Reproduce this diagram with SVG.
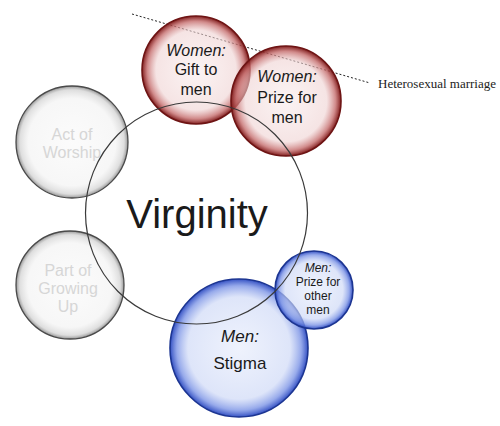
<svg xmlns="http://www.w3.org/2000/svg" width="500" height="426" viewBox="0 0 500 426">
<style>
.lbl{font-family:"Liberation Sans",Arial,sans-serif;text-anchor:middle;fill:#1a1a1a}
.it{font-style:italic}
.gray{fill:#d6d6d6}
.red{fill:url(#gRed);stroke:#6e1414;stroke-width:1.6}
.blue{fill:url(#gBlue);stroke:#1c3592;stroke-width:1.6}
.grey{fill:url(#gGrey);stroke:#4a4a4a;stroke-width:1.3}
</style>
<defs>
<radialGradient id="gRed" cx="0.5" cy="0.5" r="0.5">
<stop offset="0" stop-color="#f8eaea" stop-opacity="0.55"/>
<stop offset="0.74" stop-color="#efd2d2" stop-opacity="0.6"/>
<stop offset="0.9" stop-color="#c46a6a" stop-opacity="0.78"/>
<stop offset="1" stop-color="#7a1212" stop-opacity="0.95"/>
</radialGradient>
<radialGradient id="gBlue" cx="0.5" cy="0.5" r="0.5">
<stop offset="0" stop-color="#e4eafb" stop-opacity="0.6"/>
<stop offset="0.74" stop-color="#ccd7f6" stop-opacity="0.65"/>
<stop offset="0.9" stop-color="#7d95e6" stop-opacity="0.8"/>
<stop offset="1" stop-color="#2a48c0" stop-opacity="0.95"/>
</radialGradient>
<radialGradient id="gGrey" cx="0.5" cy="0.5" r="0.5">
<stop offset="0" stop-color="#f8f8f8" stop-opacity="0.5"/>
<stop offset="0.78" stop-color="#f0f0f0" stop-opacity="0.55"/>
<stop offset="0.93" stop-color="#d0d0d0" stop-opacity="0.7"/>
<stop offset="1" stop-color="#8a8a8a" stop-opacity="0.9"/>
</radialGradient>
</defs>
<rect width="500" height="426" fill="#ffffff"/>
<g id="connectors">
<line x1="132" y1="14" x2="370" y2="83" stroke="#222" stroke-width="1" stroke-dasharray="2,2"/>
</g>
<g id="worship">
<circle class="grey" cx="72" cy="142" r="56"/>
<text class="lbl gray" font-size="16" x="72" y="140">Act of</text>
<text class="lbl gray" font-size="16" x="72" y="158">Worship</text>
</g>
<g id="growing">
<circle class="grey" cx="70" cy="285" r="54"/>
<text class="lbl gray" font-size="16" x="68" y="276">Part of</text>
<text class="lbl gray" font-size="16" x="68" y="294">Growing</text>
<text class="lbl gray" font-size="16" x="68" y="312">Up</text>
</g>
<g id="gift">
<circle class="red" cx="196" cy="70" r="54"/>
<text class="lbl it" font-size="16" x="196" y="56">Women:</text>
<text class="lbl" font-size="16" x="196" y="75">Gift to</text>
<text class="lbl" font-size="16" x="196" y="95">men</text>
</g>
<g id="prize">
<circle class="red" cx="286" cy="101" r="55"/>
<text class="lbl it" font-size="16" x="287" y="82">Women:</text>
<text class="lbl" font-size="16" x="287" y="103">Prize for</text>
<text class="lbl" font-size="16" x="287" y="123">men</text>
</g>
<g id="stigma">
<circle class="blue" cx="239" cy="348" r="69"/>
<text class="lbl it" font-size="17" x="240" y="342">Men:</text>
<text class="lbl" font-size="17" x="240" y="369">Stigma</text>
</g>
<g id="menprize">
<circle class="blue" cx="314" cy="290" r="39"/>
<text class="lbl it" font-size="12" x="318" y="272">Men:</text>
<text class="lbl" font-size="12" x="318" y="286">Prize for</text>
<text class="lbl" font-size="12" x="318" y="300">other</text>
<text class="lbl" font-size="12" x="318" y="314">men</text>
</g>
<g id="virginity">
<circle cx="196.5" cy="213" r="111" fill="none" stroke="#3a3a3a" stroke-width="1.2"/>
<text class="lbl" font-size="40" x="197" y="228">Virginity</text>
</g>
<g id="marriage">
<text font-family="Liberation Serif,'Times New Roman',serif" font-size="13" x="378" y="88" fill="#222">Heterosexual marriage</text>
</g>
</svg>
